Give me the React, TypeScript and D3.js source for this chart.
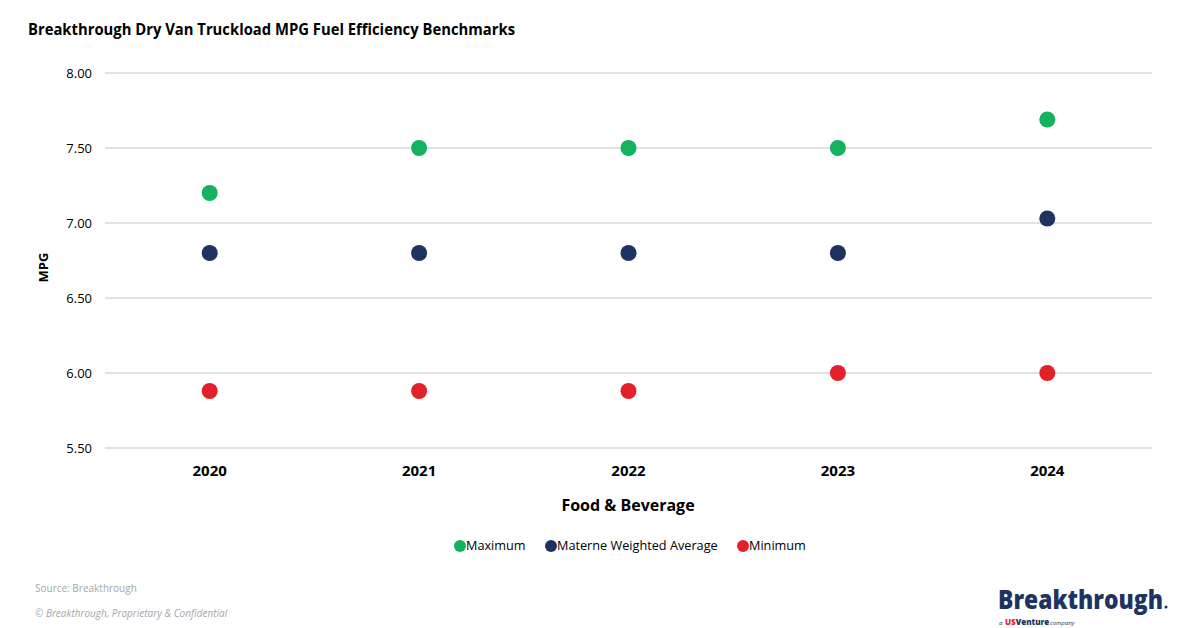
import React from "react";
import * as d3 from "d3";

const years = ["2020", "2021", "2022", "2023", "2024"];
const maximum = [7.2, 7.5, 7.5, 7.5, 7.69];
const weightedAvg = [6.8, 6.8, 6.8, 6.8, 7.03];
const minimum = [5.88, 5.88, 5.88, 6.0, 6.0];
const yTicks = [5.5, 6.0, 6.5, 7.0, 7.5, 8.0];

const seriesList = [
  { name: "Maximum", values: maximum, color: "#12B25E" },
  { name: "Materne Weighted Average", values: weightedAvg, color: "#1E3360" },
  { name: "Minimum", values: minimum, color: "#E3212A" },
];

const W = 1200;
const H = 628;
const font = "'Open Sans', 'Liberation Sans', sans-serif";

export default function App() {
  const x = d3.scaleBand().domain(years).range([105, 1152]);
  const y = d3.scaleLinear().domain([5.5, 8]).range([448, 73]);
  const legendX = [460, 551, 743];
  return (
    <svg width={W} height={H} style={{ position: "absolute", left: 0, top: 0, background: "#fff" }}>
      <rect width={W} height={H} fill="#fff" />
      <text x={28} y={35} fontFamily={font} fontWeight={700} fontSize={15.5} fill="#000" textLength={487} lengthAdjust="spacingAndGlyphs">
        Breakthrough Dry Van Truckload MPG Fuel Efficiency Benchmarks
      </text>
      {yTicks.map((t) => (
        <g key={t}>
          <line x1={105} x2={1152} y1={y(t)} y2={y(t)} stroke="#D9D9D9" strokeWidth={1.3} />
          <text x={92} y={y(t)} dy="0.35em" textAnchor="end" fontFamily={font} fontSize={13} fill="#000">
            {t.toFixed(2)}
          </text>
        </g>
      ))}
      <text transform={`translate(48,${(73 + 448) / 2 + 7}) rotate(-90)`} textAnchor="middle" fontFamily={font} fontWeight={700} fontSize={13} fill="#000">
        MPG
      </text>
      {years.map((yr) => (
        <text key={yr} x={x(yr)! + x.bandwidth() / 2} y={476} textAnchor="middle" fontFamily={font} fontWeight={700} fontSize={15} fill="#000">
          {yr}
        </text>
      ))}
      <text x={628} y={511} textAnchor="middle" fontFamily={font} fontWeight={700} fontSize={16} fill="#000">
        Food &amp; Beverage
      </text>
      {seriesList.map((s) =>
        s.values.map((v, i) => (
          <circle key={s.name + i} cx={x(years[i])! + x.bandwidth() / 2} cy={y(v)} r={8} fill={s.color} />
        ))
      )}
      {seriesList.map((s, i) => (
        <g key={s.name}>
          <circle cx={legendX[i]} cy={546} r={6} fill={s.color} />
          <text x={legendX[i] + 6} y={546} dy="0.35em" fontFamily={font} fontSize={12.7} fill="#000">
            {s.name}
          </text>
        </g>
      ))}
      <text x={35} y={592} fontFamily={font} fontSize={10} fill="#A6A6A6">
        Source: Breakthrough
      </text>
      <text x={35} y={617} fontFamily={font} fontStyle="italic" fontSize={10} fill="#A6A6A6">
        © Breakthrough, Proprietary &amp; Confidential
      </text>
      <text x={998} y={609} fontFamily={font} fontWeight={800} fontSize={26} fill="#1E3360" textLength={165} lengthAdjust="spacingAndGlyphs">
        Breakthrough
      </text>
      <circle cx={1166} cy={607} r={1.5} fill="#1E3360" />
      <text x={999} y={625} fontFamily={font} fontSize={6} fontStyle="italic" fill="#1E3360">a</text>
      <text x={1005} y={625} fontFamily={font} fontSize={8} fontWeight={800} fill="#1E3360">
        <tspan fill="#E3212A">US</tspan>Venture
      </text>
      <text x={1050} y={625} fontFamily={font} fontSize={6} fontStyle="italic" fill="#1E3360">company</text>
    </svg>
  );
}
